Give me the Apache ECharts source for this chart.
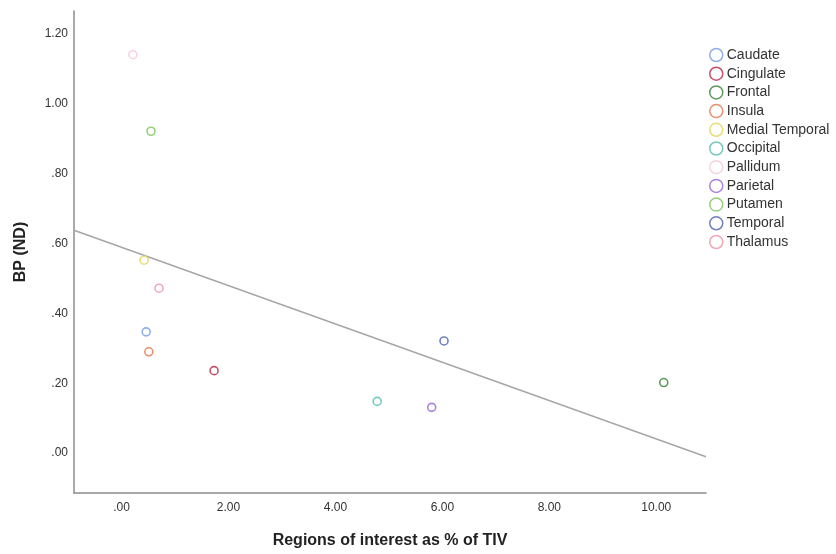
<!DOCTYPE html>
<html>
<head>
<meta charset="utf-8">
<script src="https://cdn.jsdelivr.net/npm/echarts@6/dist/echarts.min.js"></script>
<style>
html,body{margin:0;padding:0;background:#fff;}
#chart{width:836px;height:554px;}
</style>
</head>
<body>
<div id="chart"></div>
<script>
const regions = ['Caudate','Cingulate','Frontal','Insula','Medial Temporal','Occipital','Pallidum','Parietal','Putamen','Temporal','Thalamus'];
const roiPercent = [0.46, 1.73, 10.14, 0.51, 0.42, 4.78, 0.21, 5.80, 0.55, 6.03, 0.70];
const bpND = [0.347, 0.236, 0.202, 0.290, 0.552, 0.148, 1.140, 0.131, 0.921, 0.321, 0.472];
const colors = ['#8fb0e8','#c9506a','#5a9a5a','#e8906e','#e6de78','#72cbbf','#f6d4de','#a983e0','#94d07a','#7080c0','#f0a8b8'];
const xTicks = [0, 2, 4, 6, 8, 10];
const yTicks = [0, 0.2, 0.4, 0.6, 0.8, 1.0, 1.2];
const xRange = [-0.89, 10.93];
const yRange = [-0.114, 1.265];

function spssFmt(v){
  let s = Number(v).toFixed(2);
  if (s.startsWith('0.')) s = s.slice(1);
  if (s.startsWith('-0.')) s = '-' + s.slice(2);
  return s;
}

// least-squares fit line (total population)
const n = roiPercent.length;
const mx = roiPercent.reduce((a,b)=>a+b,0)/n;
const my = bpND.reduce((a,b)=>a+b,0)/n;
let sxy = 0, sxx = 0;
for (let i=0;i<n;i++){ sxy += (roiPercent[i]-mx)*(bpND[i]-my); sxx += (roiPercent[i]-mx)**2; }
const slope = sxy/sxx, icpt = my - slope*mx;
const fitData = [[xRange[0], icpt + slope*xRange[0]], [xRange[1], icpt + slope*xRange[1]]];

const series = regions.map((r,i)=>({
  name: r,
  type: 'scatter',
  symbol: 'circle',
  symbolSize: 8,
  itemStyle: {color:'#ffffff', borderColor: colors[i], borderWidth: 1.6, opacity: 1},
  data: [[roiPercent[i], bpND[i]]],
  z: 3
}));
series.push({
  name: 'fit',
  type: 'line',
  data: fitData,
  symbol: 'none',
  lineStyle: {color:'#a6a6a6', width: 1.5},
  silent: true,
  z: 2
});

const chart = echarts.init(document.getElementById('chart'));
chart.setOption({
  backgroundColor: '#ffffff',
  animation: false,
  textStyle: {fontFamily: 'Liberation Sans, Arial, sans-serif'},
  grid: {left: 74, top: 11, right: 130, bottom: 57},
  legend: {
    orient: 'vertical',
    left: 709, top: 47,
    padding: 0,
    data: regions,
    icon: 'circle',
    itemWidth: 13, itemHeight: 13,
    itemGap: 2.7,
    itemStyle: {color: '#ffffff', borderColor: 'inherit', borderWidth: 1.5},
    textStyle: {fontSize: 14, color: '#333', padding: [0,0,0,-1], lineHeight: 16}
  },
  xAxis: {
    type: 'value',
    min: xRange[0], max: xRange[1],
    name: 'Regions of interest as % of TIV',
    nameLocation: 'middle', nameGap: 40,
    nameTextStyle: {fontSize: 16, fontWeight: 'bold', color: '#222'},
    axisLine: {show: true, onZero: false, lineStyle: {color: '#8c8c8c', width: 1.5}},
    axisTick: {show: false},
    splitLine: {show: false},
    axisLabel: {customValues: xTicks, formatter: spssFmt, fontSize: 12, color: '#333', margin: 9}
  },
  yAxis: {
    type: 'value',
    min: yRange[0], max: yRange[1],
    name: 'BP (ND)',
    nameLocation: 'middle', nameGap: 45,
    nameTextStyle: {fontSize: 16, fontWeight: 'bold', color: '#222'},
    axisLine: {show: true, onZero: false, lineStyle: {color: '#8c8c8c', width: 1.5}},
    axisTick: {show: false},
    splitLine: {show: false},
    axisLabel: {customValues: yTicks, formatter: spssFmt, fontSize: 12, color: '#333', margin: 6}
  },
  series: series
});
</script>
</body>
</html>
